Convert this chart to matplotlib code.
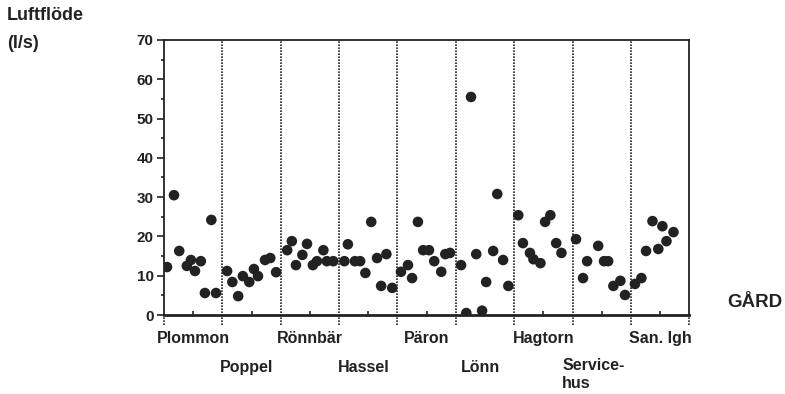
import matplotlib.pyplot as plt
import matplotlib.transforms as mtransforms
import numpy as np

plt.rcParams['font.family'] = ['Liberation Sans', 'DejaVu Sans']
plt.rcParams['font.weight'] = 'bold'

# farms (gårdar), one group per farm along x
farms = ['Plommon', 'Poppel', 'Rönnbär', 'Hassel', 'Päron',
         'Lönn', 'Hagtorn', 'Service-\nhus', 'San. lgh']

# x position of each measurement (group units) and airflow (l/s)
plommon_x = [0.05, 0.17, 0.26, 0.39, 0.46, 0.53, 0.63, 0.70, 0.81, 0.89]
plommon_y = [12.2, 30.5, 16.3, 12.5, 14.0, 11.2, 13.7, 5.6, 24.2, 5.6]
poppel_x = [1.08, 1.17, 1.27, 1.35, 1.46, 1.54, 1.61, 1.73, 1.82, 1.92]
poppel_y = [11.2, 8.4, 4.8, 9.9, 8.4, 11.7, 9.9, 14.0, 14.5, 10.9]
ronnbar_x = [2.11, 2.19, 2.26, 2.37, 2.45, 2.55, 2.62, 2.73, 2.79, 2.90]
ronnbar_y = [16.5, 18.8, 12.7, 15.3, 18.1, 12.7, 13.7, 16.5, 13.7, 13.7]
hassel_x = [3.09, 3.15, 3.27, 3.36, 3.45, 3.55, 3.65, 3.72, 3.81, 3.91]
hassel_y = [13.7, 18.0, 13.7, 13.7, 10.7, 23.7, 14.5, 7.4, 15.5, 6.9]
paron_x = [4.06, 4.18, 4.25, 4.35, 4.44, 4.54, 4.63, 4.75, 4.82, 4.90]
paron_y = [11.0, 12.7, 9.4, 23.7, 16.5, 16.5, 13.7, 11.0, 15.5, 15.8]
lonn_x = [5.09, 5.18, 5.26, 5.35, 5.45, 5.52, 5.64, 5.71, 5.81, 5.90]
lonn_y = [12.7, 0.5, 55.5, 15.5, 1.1, 8.4, 16.3, 30.8, 14.0, 7.4]
hagtorn_x = [6.07, 6.15, 6.27, 6.33, 6.45, 6.53, 6.62, 6.72, 6.81]
hagtorn_y = [25.4, 18.3, 15.8, 14.2, 13.2, 23.7, 25.4, 18.3, 15.8]
service_x = [7.06, 7.18, 7.25, 7.44, 7.54, 7.61, 7.70, 7.82, 7.90]
service_y = [19.3, 9.4, 13.7, 17.6, 13.7, 13.7, 7.4, 8.7, 5.1]
sanlgh_x = [8.07, 8.18, 8.26, 8.37, 8.47, 8.54, 8.61, 8.73]
sanlgh_y = [7.9, 9.4, 16.3, 23.9, 16.8, 22.6, 18.8, 21.1]

all_x = (plommon_x + poppel_x + ronnbar_x + hassel_x + paron_x
         + lonn_x + hagtorn_x + service_x + sanlgh_x)
all_y = (plommon_y + poppel_y + ronnbar_y + hassel_y + paron_y
         + lonn_y + hagtorn_y + service_y + sanlgh_y)

ink = '#222222'

fig = plt.figure(figsize=(7.85, 3.94), dpi=100)
ax = fig.add_axes([0.209, 0.2005, 0.669, 0.698])

ax.scatter(all_x, all_y, s=58, color=ink, edgecolors='none', zorder=3)

# dotted separators between farms, running a bit below the axis
n = len(farms)
trans = mtransforms.blended_transform_factory(ax.transData, ax.transAxes)
for i in range(1, n):
    ax.plot([i, i], [-0.035, 1], transform=trans, color=ink, lw=1.2,
            ls=(0, (1, 0.8)), clip_on=False, zorder=2)
ax.plot([0, 0], [-0.035, 0], transform=trans, color=ink, lw=1.2,
        ls=(0, (1, 0.8)), clip_on=False)
ax.plot([n, n], [-0.035, 0], transform=trans, color=ink, lw=1.2,
        ls=(0, (1, 0.8)), clip_on=False)

ax.set_xlim(0, n)
ax.set_ylim(0, 70)
ax.set_xticks(np.arange(n) + 0.5)
ax.set_xticklabels([])
ax.tick_params(axis='x', direction='in', length=3, width=1.2, color=ink)
ax.set_yticks(np.arange(0, 71, 10))
ax.set_yticks(np.arange(5, 70, 10), minor=True)
ax.tick_params(axis='y', which='major', direction='out', length=5,
               width=1.2, color=ink, labelsize=11, labelcolor=ink, pad=2.5)
ax.tick_params(axis='y', which='minor', direction='out', length=2.5,
               width=1.2, color=ink)
for lab in ax.get_yticklabels():
    lab.set_fontweight('bold')
for sp in ax.spines.values():
    sp.set_color(ink)
    sp.set_linewidth(1.3)
ax.spines['bottom'].set_linewidth(2.0)

# farm names in two staggered rows
for i, name in enumerate(farms):
    if i == 7:
        ax.text(i - 0.18, -0.158, name, transform=trans, ha='left', va='top',
                fontsize=11.5, fontweight='bold', color=ink, linespacing=1.25)
    elif i % 2 == 0:
        ax.text(i + 0.5, -0.087, name, transform=trans, ha='center',
                va='center', fontsize=11.5, fontweight='bold', color=ink)
    else:
        ax.text(i + 0.42, -0.19, name, transform=trans, ha='center',
                va='center', fontsize=11.5, fontweight='bold', color=ink)

fig.text(0.009, 0.960, 'Luftflöde', fontsize=13, fontweight='bold',
         color=ink, va='center')
fig.text(0.009, 0.890, '(l/s)', fontsize=13, fontweight='bold',
         color=ink, va='center')
fig.text(0.962, 0.233, 'GÅRD', fontsize=13.5, fontweight='bold',
         color=ink, ha='center', va='center')

fig.savefig('out.png', dpi=100, facecolor='white')
